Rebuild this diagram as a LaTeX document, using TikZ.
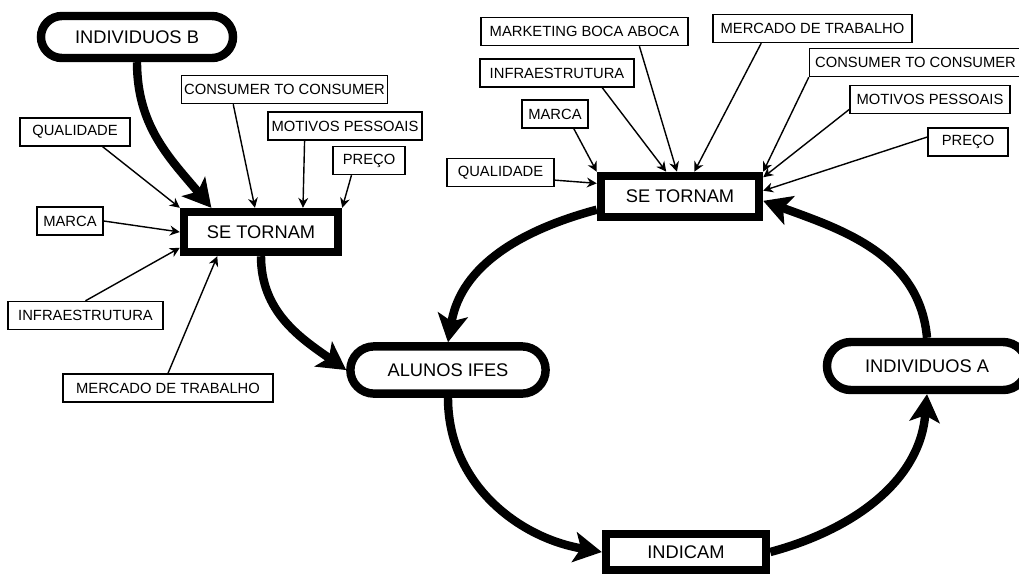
\documentclass[tikz,border=0pt]{standalone}
\usepackage{fontspec}
\setmainfont{Liberation Sans}
\usetikzlibrary{arrows.meta,shapes.misc,calc}
\tikzset{every picture/.style={line width=0.75pt}}
\tikzset{
  fator/.style={draw, line width=1pt, minimum width=#1, minimum height=0.7cm,
    inner sep=1pt, font=\fontsize{10.5}{12}\selectfont},
  fator/.default=2cm,
  acao/.style={draw, line width=6pt, inner sep=0pt, font=\fontsize{13}{15}\selectfont},
  grupo/.style={acao, rounded rectangle},
  fino/.style={line width=1pt, -{Stealth[length=7pt,width=7pt]}},
  grosso/.style={line width=6pt, -{Stealth[length=20pt,width=22pt,inset=5pt,line width=1pt]}},
}

\begin{document}
\begin{tikzpicture}[x=0.025cm, y=0.025cm]
    \useasboundingbox (0,0) rectangle (1019,-575);

    % 主要节点
    \node[grupo, minimum width=4.8cm, minimum height=1.05cm] (indB) at (137,-37) {INDIVIDUOS B};
    \node[acao, minimum width=3.85cm, minimum height=1.0cm] (seL) at (261,-232) {SE TORNAM};
    \node[grupo, minimum width=4.88cm, minimum height=1.18cm] (alunos) at (448,-370) {ALUNOS IFES};
    \node[acao, minimum width=3.95cm, minimum height=1.03cm] (seR) at (680,-196.5) {SE TORNAM};
    \node[acao, minimum width=4.0cm, minimum height=0.9cm] (indicam) at (686,-552) {INDICAM};
    \node[grupo, minimum width=5.0cm, minimum height=1.2cm] (indA) at (927,-366) {INDIVIDUOS A};

    % 左侧因素
    \node[fator=2.75cm] (qualL) at (75,-132) {QUALIDADE};
    \node[fator=5.15cm] (consL) at (284.5,-89.5) {CONSUMER TO CONSUMER};
    \node[fator=3.85cm] (motL) at (345,-126) {MOTIVOS PESSOAIS};
    \node[fator=1.8cm] (precoL) at (369,-160.5) {PREÇO};
    \node[fator=1.65cm] (marcaL) at (70,-221) {MARCA};
    \node[fator=3.88cm] (infraL) at (85.5,-315.5) {INFRAESTRUTURA};
    \node[fator=5.25cm] (mercL) at (168,-388) {MERCADO DE TRABALHO};

    % 右侧因素
    \node[fator=5.17cm] (mktR) at (584.5,-31.5) {MARKETING BOCA ABOCA};
    \node[fator=3.85cm] (infraR) at (557,-73) {INFRAESTRUTURA};
    \node[fator=1.65cm] (marcaR) at (555,-114) {MARCA};
    \node[fator=2.68cm] (qualR) at (500.5,-172.5) {QUALIDADE};
    \node[fator=4.97cm] (mercR) at (812.5,-28.5) {MERCADO DE TRABALHO};
    \node[fator=5.3cm] (consR) at (915.5,-62.5) {CONSUMER TO CONSUMER};
    \node[fator=4.0cm] (motR) at (930,-99.5) {MOTIVOS PESSOAIS};
    \node[fator=2.0cm] (precoR) at (968,-142) {PREÇO};

    % 细箭头 (左)
    \draw[fino] (qualL.-28) -- (seL.north west);
    \draw[fino] (consL.196) -- (seL.104);
    \draw[fino] (motL.200) -- (seL.30);
    \draw[fino] (precoL.220) -- (seL.north east);
    \draw[fino] (marcaL.east) -- (seL.west);
    \draw[fino] (infraL.north) -- (seL.191);
    \draw[fino] (mercL.north) -- (seL.209);

    % 细箭头 (右)
    \draw[fino] (qualR.-8) -- (seR.171);
    \draw[fino] (marcaR.-38) -- (seR.north west);
    \draw[fino] (infraR.-18) -- (seR.119);
    \draw[fino] (mktR.-15) -- (seR.97);
    \draw[fino] (mercR.196) -- (seR.60);
    \draw[fino] (consR.south west) -- (seR.north east);
    \draw[fino] (motR.187) -- (seR.13);
    \draw[fino] (precoR.173) -- (seR.4);

    % 粗箭头
    \draw[grosso] (indB.south) to[out=-90, in=130] (seL.154);
    \draw[grosso] (seL.south) to[out=-90, in=145] (alunos.west);
    \draw[grosso] (seR.189) to[out=195, in=80] (alunos.north);
    \draw[grosso] (alunos.south) to[out=-90, in=170] (indicam.west);
    \draw[grosso] (indicam.east) to[out=15, in=-95] (indA.south);
    \draw[grosso] (indA.north) to[out=95, in=-20] (seR.-3);
\end{tikzpicture}
\end{document}
